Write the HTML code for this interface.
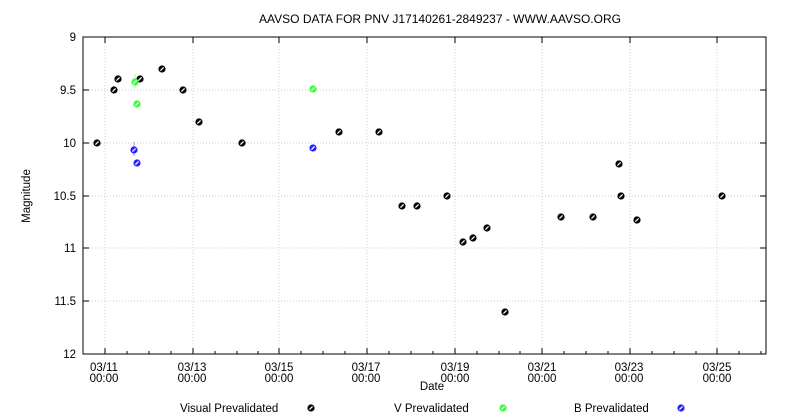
<!DOCTYPE html>
<html><head><style>body{margin:0;background:#fff}svg{display:block;font-family:"Liberation Sans",sans-serif}</style></head><body>
<svg width="800" height="420" xmlns="http://www.w3.org/2000/svg">
<defs>
<g id="mk"><circle r="3.6"/><line x1="-1.6" y1="1.6" x2="1.6" y2="-1.6" stroke="#fff" stroke-width="1.2"/></g>
</defs>
<text x="440" y="23" font-size="12" text-anchor="middle">AAVSO DATA FOR PNV J17140261-2849237 - WWW.AAVSO.ORG</text>
<g stroke="#ccc" stroke-dasharray="1,2" stroke-width="1">
<line x1="83" x2="766" y1="90" y2="90"/><line x1="83" x2="766" y1="143" y2="143"/><line x1="83" x2="766" y1="196" y2="196"/><line x1="83" x2="766" y1="248" y2="248"/><line x1="83" x2="766" y1="301" y2="301"/>
<line x1="105" x2="105" y1="37" y2="354"/><line x1="193" x2="193" y1="37" y2="354"/><line x1="279" x2="279" y1="37" y2="354"/><line x1="367" x2="367" y1="37" y2="354"/><line x1="455" x2="455" y1="37" y2="354"/><line x1="542" x2="542" y1="37" y2="354"/><line x1="630" x2="630" y1="37" y2="354"/><line x1="717" x2="717" y1="37" y2="354"/>
</g>
<rect x="83" y="37" width="683" height="317" fill="none" stroke="#000"/>
<g stroke="#000">
<path d="M83 37h6M83 90h6M83 143h6M83 196h6M83 248h6M83 301h6M766 37h-6M766 90h-6M766 143h-6M766 196h-6M766 248h-6M766 301h-6"/>
<path d="M105 354v-6M193 354v-6M279 354v-6M367 354v-6M455 354v-6M542 354v-6M630 354v-6M717 354v-6M105 37v6M193 37v6M279 37v6M367 37v6M455 37v6M542 37v6M630 37v6M717 37v6"/>
<path d="M127 354v-3M149 354v-3M171 354v-3M215 354v-3M237 354v-3M258 354v-3M301 354v-3M323 354v-3M345 354v-3M389 354v-3M411 354v-3M433 354v-3M477 354v-3M499 354v-3M520 354v-3M564 354v-3M586 354v-3M608 354v-3M652 354v-3M674 354v-3M696 354v-3M739 354v-3M761 354v-3"/>
</g>
<g font-size="11.5" text-anchor="end">
<text x="76" y="41">9</text><text x="76" y="94">9.5</text><text x="76" y="147">10</text><text x="76" y="200">10.5</text><text x="76" y="252">11</text><text x="76" y="305">11.5</text><text x="76" y="358">12</text>
</g>
<g font-size="11.5" text-anchor="middle">
<text x="104" y="371">03/11</text><text x="104" y="382">00:00</text>
<text x="192" y="371">03/13</text><text x="192" y="382">00:00</text>
<text x="279" y="371">03/15</text><text x="279" y="382">00:00</text>
<text x="366" y="371">03/17</text><text x="366" y="382">00:00</text>
<text x="455" y="371">03/19</text><text x="455" y="382">00:00</text>
<text x="542" y="371">03/21</text><text x="542" y="382">00:00</text>
<text x="629" y="371">03/23</text><text x="629" y="382">00:00</text>
<text x="717" y="371">03/25</text><text x="717" y="382">00:00</text>
<text x="432" y="390">Date</text>
<text x="30" y="196" transform="rotate(-90 30 196)">Magnitude</text>
</g>
<g font-size="11.5">
<text x="180" y="412">Visual Prevalidated</text>
<text x="394" y="412">V Prevalidated</text>
<text x="574" y="412">B Prevalidated</text>
</g>
<use href="#mk" x="311" y="408"/>
<use href="#mk" x="503" y="408" fill="#3f3"/>
<use href="#mk" x="681" y="408" fill="#22f"/>
<g stroke="#9f9"><line x1="135" x2="135" y1="74" y2="88"/></g>
<g stroke="#99f"><line x1="134" x2="134" y1="142" y2="156"/></g>
<g>
<use href="#mk" x="97" y="143"/><use href="#mk" x="114" y="90"/><use href="#mk" x="118" y="79"/><use href="#mk" x="140" y="79"/><use href="#mk" x="162" y="69"/><use href="#mk" x="183" y="90"/><use href="#mk" x="199" y="122"/><use href="#mk" x="242" y="143"/><use href="#mk" x="339" y="132"/><use href="#mk" x="379" y="132"/><use href="#mk" x="402" y="206"/><use href="#mk" x="417" y="206"/><use href="#mk" x="447" y="196"/><use href="#mk" x="463" y="242"/><use href="#mk" x="473" y="238"/><use href="#mk" x="487" y="228"/><use href="#mk" x="505" y="312"/><use href="#mk" x="561" y="217"/><use href="#mk" x="593" y="217"/><use href="#mk" x="619" y="164"/><use href="#mk" x="621" y="196"/><use href="#mk" x="637" y="220"/><use href="#mk" x="722" y="196"/>
</g>
<g fill="#3f3"><use href="#mk" x="135" y="82"/><use href="#mk" x="137" y="104"/><use href="#mk" x="313" y="89"/></g>
<g fill="#22f"><use href="#mk" x="134" y="150"/><use href="#mk" x="137" y="163"/><use href="#mk" x="313" y="148"/></g>
</svg>
</body></html>
